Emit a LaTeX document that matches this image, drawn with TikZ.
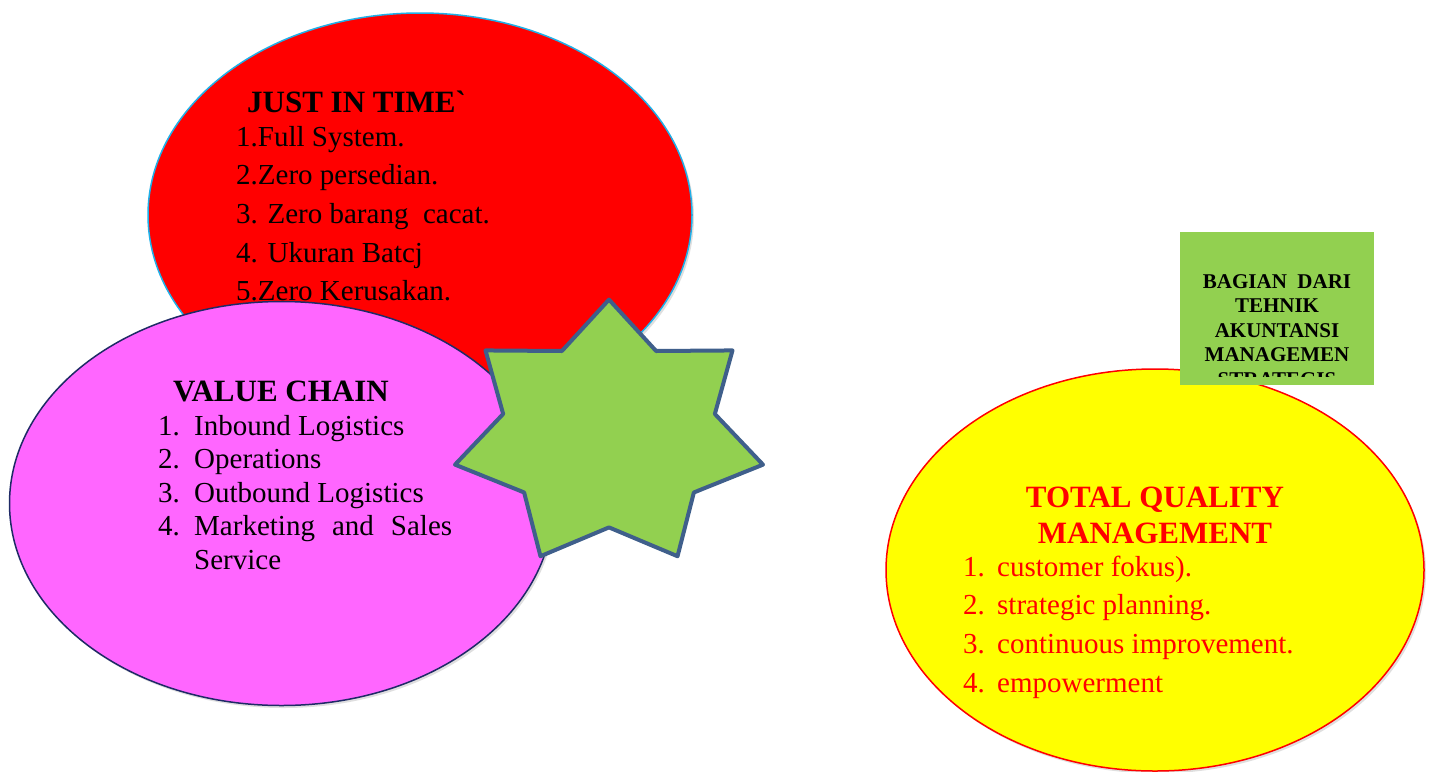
\documentclass[tikz,border=0pt]{standalone}
\usepackage{fontspec}
\setmainfont{Liberation Serif}
\newfontfamily\rawserif{Liberation Serif}
\usetikzlibrary{shapes.geometric,shadows,positioning}
\definecolor{jitred}{HTML}{FF0000}
\definecolor{vcpink}{HTML}{FF66FF}
\definecolor{tqmyellow}{HTML}{FFFF00}
\definecolor{leaf}{HTML}{92D050}
\definecolor{starline}{HTML}{3F5F8B}
\definecolor{skyline}{HTML}{1FB0E8}
\definecolor{navyline}{HTML}{1F2A66}
\tikzset{
%Define style for the big ellipses
    blob/.style={
           ellipse,
           inner sep=0pt,
           minimum width=544pt,
           minimum height=404pt,
           line width=1.5pt,
           drop shadow={shadow xshift=2pt, shadow yshift=-2.5pt, opacity=0.25}},
%Define style for headings
    head/.style={
           anchor=base,
           inner sep=0pt,
           font=\bfseries\fontsize{31}{36}\selectfont},
%Define style for list lines
    entry/.style={
           anchor=base west,
           inner sep=0pt,
           font=\fontsize{29}{34}\selectfont},
%Define style for the small label box
    boxtext/.style={
           anchor=base,
           inner sep=0pt,
           font=\bfseries\fontsize{21}{24}\selectfont}
}

\begin{document}
\begin{tikzpicture}[x=1pt, y=-1pt]
 \path[use as bounding box, fill=white] (0,0) rectangle (1431,771);

 % just in time
 \node[blob, fill=jitred, draw=skyline] (jit) at (420,215) {};
 \node[head, anchor=base west] (jithead) at (247,112) {JUST IN TIME{\rawserif`}};
 \foreach \txt [count=\i] in {1.Full System., 2.Zero persedian., 3. Zero barang\ \ cacat., 4. Ukuran Batcj, 5.Zero Kerusakan.}
   \node[entry] (jit\i) at (236,107.3+38.7*\i) {\txt};

 % value chain
 \node[blob, fill=vcpink, draw=navyline] (vc) at (281.5,503.5) {};
 \node[head] (vchead) at (281,401) {VALUE CHAIN};
 \foreach \txt [count=\i] in {Inbound Logistics, Operations, Outbound Logistics, {\makebox[258pt][s]{Marketing and Sales}}}{
   \node[entry] (vcn\i) at (158,401.5+33.5*\i) {\i.};
   \node[entry] (vc\i) at (194,401.5+33.5*\i) {\txt};
 }
 \node[entry] (vc5) at (194,569) {Service};

 % star in the middle
 \begin{scope}[shift={(609,434.6)}, xscale=1.17]
   \node[star, star points=7, star point ratio=1.455, minimum size=270pt, inner sep=0pt,
         transform shape, fill=leaf, draw=starline, line width=4pt, line join=round] (hub) at (0,0) {};
 \end{scope}

 % total quality management
 \node[blob, minimum width=538pt, minimum height=402pt, fill=tqmyellow, draw=jitred] (tqm) at (1155,570) {};
 \node[head, text=jitred] (tqmhead) at (1155,507) {TOTAL QUALITY};
 \node[head, text=jitred] (tqmhead2) at (1155,543) {MANAGEMENT};
 \foreach \txt [count=\i] in {{customer fokus).}, strategic planning., continuous improvement., empowerment}{
   \node[entry, text=jitred] (tqmn\i) at (963,537.3+38.7*\i) {\i.};
   \node[entry, text=jitred] (tqm\i) at (997,537.3+38.7*\i) {\txt};
 }

 % label box, text cut off at the bottom
 \node[fill=leaf, minimum width=194pt, minimum height=153pt, inner sep=0pt, anchor=north west] (note) at (1180,232) {};
 \begin{scope}
   \clip (note.north west) rectangle ([yshift=9pt]note.south east);
   \foreach \txt [count=\i] in {BAGIAN\ \ DARI, TEHNIK, AKUNTANSI, MANAGEMEN, STRATEGIS}
     \node[boxtext] (note\i) at (1277,263.5+24.5*\i) {\txt};
 \end{scope}
\end{tikzpicture}
\end{document}
